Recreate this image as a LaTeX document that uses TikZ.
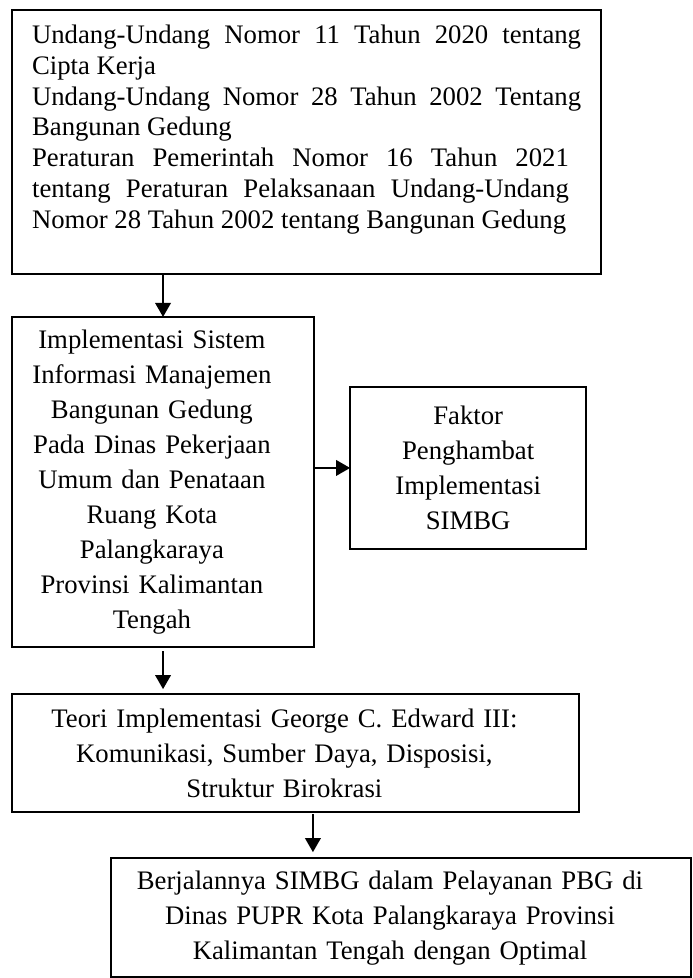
\documentclass[tikz,border=0pt]{standalone}
\usepackage{fontspec}
\setmainfont{Liberation Serif}
\usepackage{tikz}
\usetikzlibrary{arrows.meta,positioning}
\tolerance=10000
\hyphenpenalty=10000
\exhyphenpenalty=10000

\begin{document}
\begin{tikzpicture}[
  font=\fontsize{12}{15.7}\selectfont,
  b/.style={draw=black,line width=0.8pt,outer sep=0pt,inner xsep=4pt,inner ysep=2pt,align=center},
  offc/.style={execute at begin node={\advance\rightskip by 10pt}},
  a/.style={-{Triangle[length=6.3pt,width=7pt]},line width=0.8pt,draw=black}
]
\useasboundingbox (0,0) rectangle (310.7pt,-439.1pt);
\node[b,anchor=north west,align=justify,inner xsep=9pt,text width=246.5pt,
  minimum height=118.5pt,font=\fontsize{12}{13.8}\selectfont]
  (law) at (5.4pt,-4.5pt) {Undang-Undang Nomor 11 Tahun 2020 tentang\linebreak Cipta Kerja\par
  Undang-Undang Nomor 28 Tahun 2002 Tentang\linebreak Bangunan Gedung\par
  {\rightskip=5.5pt\relax Peraturan Pemerintah Nomor 16 Tahun 2021\linebreak
  tentang Peraturan Pelaksanaan Undang-Undang\linebreak
  Nomor 28 Tahun 2002 tentang Bangunan Gedung\par}\mbox{}};
\node[b,offc,below=19.3pt of law.south west,anchor=north west,
  text width=127.6pt,minimum height=148.2pt]
  (impl) {Implementasi Sistem\\Informasi Manajemen\\Bangunan Gedung\\Pada Dinas Pekerjaan\\
  Umum dan Penataan\\Ruang Kota\\Palangkaraya\\Provinsi Kalimantan\\Tengah};
\node[b,right=16.2pt of impl.east,yshift=6.3pt,text width=98pt,minimum height=72.7pt]
  (hamb) {Faktor\\Penghambat\\Implementasi\\SIMBG};
\node[b,offc,below=21.1pt of impl.south west,anchor=north west,
  text width=246.6pt,minimum height=53pt]
  (teori) {Teori Implementasi George C. Edward III:\\Komunikasi, Sumber Daya, Disposisi,\\Struktur Birokrasi};
\node[b,offc,below=20.7pt of teori.south west,anchor=north west,xshift=44.5pt,
  text width=252.4pt,minimum height=53.4pt]
  (hasil) {Berjalannya SIMBG dalam Pelayanan PBG di\\Dinas PUPR Kota Palangkaraya Provinsi\\Kalimantan Tengah dengan Optimal};
\draw[a] (impl.north |- law.south) -- (impl.north);
\draw[a] (impl.east |- hamb.west) -- (hamb.west);
\draw[a,shorten <=1.8pt,shorten >=2.2pt] (impl.south) -- (impl.south |- teori.north);
\draw[a,shorten <=0.9pt,shorten >=2.7pt] ([xshift=7.8pt]teori.south) -- ([xshift=7.8pt]teori.south |- hasil.north);
\end{tikzpicture}
\end{document}
